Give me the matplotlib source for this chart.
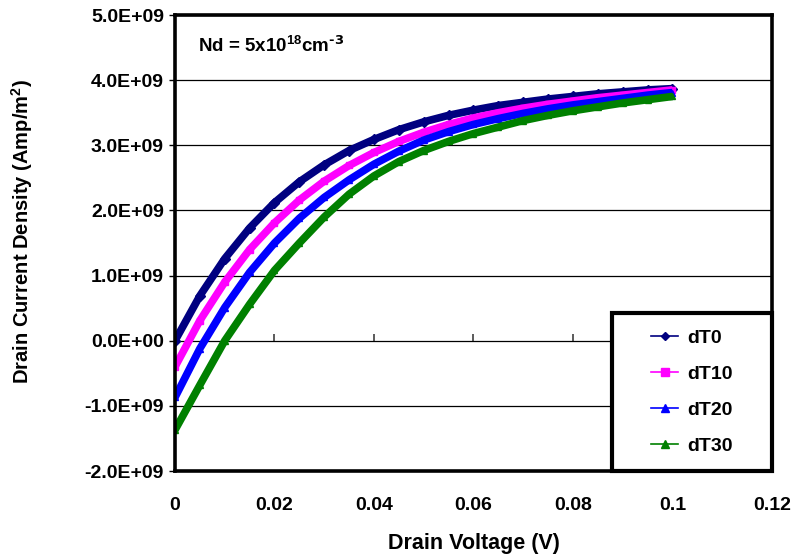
#!/usr/bin/env python

import matplotlib
matplotlib.use("Agg")
import matplotlib.pyplot as plt
from matplotlib.lines import Line2D
from matplotlib.patches import Rectangle
from matplotlib.ticker import FuncFormatter, MultipleLocator

# drain voltage (V)
voltage = [0.000, 0.005, 0.010, 0.015, 0.020, 0.025, 0.030, 0.035, 0.040, 0.045, 0.050,
           0.055, 0.060, 0.065, 0.070, 0.075, 0.080, 0.085, 0.090, 0.095, 0.100]

# drain current density, in units of 1E9 Amp/m^2
dT0 = [0.00, 0.69, 1.26, 1.73, 2.12, 2.44, 2.70, 2.92, 3.09, 3.24, 3.36,
       3.46, 3.54, 3.61, 3.66, 3.71, 3.75, 3.79, 3.82, 3.85, 3.87]
dT10 = [-0.40, 0.31, 0.90, 1.40, 1.81, 2.16, 2.45, 2.69, 2.89, 3.06, 3.20,
        3.32, 3.42, 3.50, 3.57, 3.63, 3.68, 3.73, 3.77, 3.81, 3.85]
dT20 = [-0.87, -0.12, 0.51, 1.05, 1.50, 1.88, 2.20, 2.47, 2.71, 2.91, 3.08,
        3.21, 3.32, 3.41, 3.49, 3.56, 3.62, 3.67, 3.72, 3.77, 3.81]
dT30 = [-1.37, -0.68, 0.00, 0.56, 1.08, 1.50, 1.90, 2.25, 2.53, 2.75, 2.92,
        3.06, 3.18, 3.28, 3.38, 3.46, 3.53, 3.59, 3.65, 3.70, 3.75]

series_names = ["dT0", "dT10", "dT20", "dT30"]
series_data = [dT0, dT10, dT20, dT30]
colors = ["#000080", "#FF00FF", "#0000FF", "#008000"]
markers = ["D", "s", "^", "^"]

plt.rcParams["font.family"] = ["Liberation Sans", "DejaVu Sans"]
plt.rcParams["font.weight"] = "bold"
plt.rcParams["mathtext.default"] = "regular"


def main():
    fig = plt.figure(figsize=(7.98, 5.6), dpi=100)
    ax = fig.add_axes([0.2193, 0.1589, 0.7481, 0.8143])

    # curves: thick line plus markers to imitate the dense marker band
    for name, vals, c, m in zip(series_names, series_data, colors, markers):
        y = [v * 1e9 for v in vals]
        ax.plot(voltage, y, color=c, lw=5.5, marker=m, ms=5, zorder=2,
                solid_capstyle="butt")

    ax.set_xlim(0, 0.12)
    ax.set_ylim(-2e9, 5e9)
    ax.xaxis.set_major_locator(MultipleLocator(0.02))
    ax.yaxis.set_major_locator(MultipleLocator(1e9))
    ax.xaxis.set_major_formatter(FuncFormatter(lambda v, p: f"{v:g}"))
    ax.yaxis.set_major_formatter(FuncFormatter(lambda v, p: f"{v:.1E}"))

    ax.grid(axis="y", color="black", lw=0.9)
    ax.set_axisbelow(True)
    for s in ax.spines.values():
        s.set_linewidth(2.6)
        s.set_color("black")

    ax.tick_params(axis="x", length=0, pad=19, labelsize=14)
    ax.tick_params(axis="y", length=4, width=1, pad=4, labelsize=14, direction="out")

    # x ticks sit on the zero line, pointing up
    sec = ax.secondary_xaxis(2.0 / 7.0)
    sec.xaxis.set_major_locator(MultipleLocator(0.02))
    sec.tick_params(axis="x", direction="in", length=5, width=1.2, color="#404040",
                    labelbottom=False)
    sec.spines["bottom"].set_visible(False)

    ax.set_xlabel("Drain Voltage (V)", fontsize=15.5, fontweight="bold")
    ax.set_ylabel("Drain Current Density (Amp/m$^2$)", fontsize=14.5,
                  fontweight="bold")
    ax.xaxis.set_label_coords(0.5, -0.136)
    ax.yaxis.set_label_coords(-0.2345, 0.526)

    ax.text(0.0385, 0.934, r"Nd = 5x10$^{18}$cm$^{\text{-3}}$", transform=ax.transAxes,
            fontsize=13.5, fontweight="bold", va="center", ha="left")

    # legend box
    box = Rectangle((0.732, 0.0), 0.268, 0.346, transform=ax.transAxes,
                    facecolor="white", edgecolor="black", lw=3, zorder=4,
                    clip_on=False)
    ax.add_patch(box)
    handles = [Line2D([], [], color=c, lw=1.2, marker=m, ms=6 if m != "D" else 4.5)
               for c, m in zip(colors, markers)]
    leg = ax.legend(handles, series_names, loc="center",
                    bbox_to_anchor=(0.732 + 0.268 / 2, 0.346 / 2),
                    frameon=False, handlelength=1.4,
                    handletextpad=0.45, labelspacing=0.95,
                    prop={"weight": "bold", "size": 14})
    leg.set_zorder(5)

    fig.savefig("out.png", dpi=100)


if __name__ == "__main__":
    main()
